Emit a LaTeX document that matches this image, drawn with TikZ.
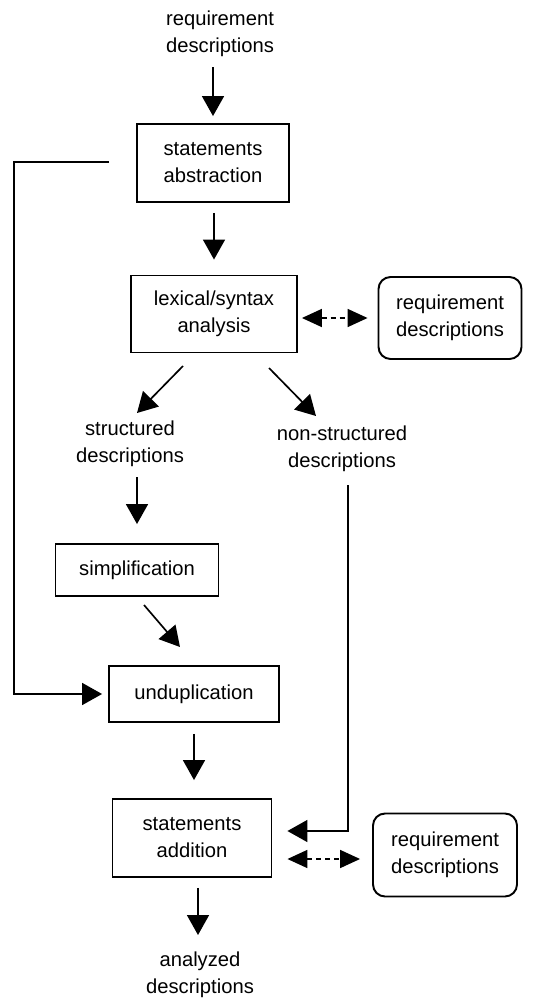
\documentclass[tikz,border=0pt]{standalone}
\usepackage{fontspec}
\setmainfont{Liberation Sans}
\usetikzlibrary{arrows.meta,calc}

\begin{document}
\begin{tikzpicture}[x=0.02cm, y=-0.02cm,
		font=\fontsize{11.5}{15.4}\selectfont,
		arr/.style={-{Triangle[length=0.4cm,width=0.44cm]}, line width=0.95pt},
		dbl/.style={{Triangle[length=0.4cm,width=0.36cm]}-{Triangle[length=0.4cm,width=0.36cm]}, line width=0.95pt, dash pattern=on 0.1cm off 0.08cm},
		proc/.style={draw, line width=1.1pt, align=center, inner sep=0pt},
		store/.style={proc, rounded corners=0.24cm},
		txt/.style={align=center, inner sep=0pt}]
	\useasboundingbox (0,0) rectangle (545,1000);

	\node[txt] (in) at (220, 34) {requirement\\descriptions};
	\node[proc, minimum width=3.04cm, minimum height=1.56cm] (abs) at (213, 163) {statements\\abstraction};
	\node[proc, minimum width=3.32cm, minimum height=1.54cm] (lex) at (214, 314) {lexical/syntax\\analysis};
	\node[store, minimum width=2.86cm, minimum height=1.64cm] (req1) at (450, 318) {requirement\\descriptions};
	\node[txt] (struct) at (130, 444) {structured\\descriptions};
	\node[txt] (nonstruct) at (342, 449) {non-structured\\descriptions};
	\node[proc, minimum width=3.26cm, minimum height=1.04cm] (simp) at (137, 570) {simplification};
	\node[proc, minimum width=3.4cm, minimum height=1.12cm] (undup) at (194, 694) {unduplication};
	\node[proc, minimum width=3.18cm, minimum height=1.56cm] (add) at (192, 838) {statements\\addition};
	\node[store, minimum width=2.88cm, minimum height=1.66cm] (req2) at (445, 855) {requirement\\descriptions};
	\node[txt] (out) at (200, 975) {analyzed\\descriptions};

	% main flow
	\draw[arr, shorten <=0.2cm, shorten >=0.14cm] (abs.north |- in.south) -- (abs.north);
	\draw[arr, shorten <=0.2cm, shorten >=0.3cm] (abs.south -| lex.north) -- (lex.north);
	\draw[arr] ($(lex)+(-31,52)$) -- ($(struct)+(7,-31)$);
	\draw[arr] ($(lex)+(55,54)$) -- ($(nonstruct)+(-26,-33)$);
	\draw[arr, shorten >=0.38cm] ($(struct)+(7,33)$) -- (simp.north);
	\draw[arr] ($(simp)+(7,35)$) -- ($(undup)+(-14,-47)$);
	\draw[arr, shorten <=0.22cm, shorten >=0.36cm] (undup.south) -- (undup.south |- add.north);
	\draw[arr, shorten <=0.2cm] (add.south -| 198,0) -- ($(out)+(-2,-40)$);

	% side paths
	\coordinate (fb) at ($(abs.west)+(-27,-1)$);
	\draw[arr, shorten >=0.12cm] (fb) -- ++(-95,0) |- (undup.west);
	\coordinate (ns) at ($(nonstruct)+(6,36)$);
	\draw[arr, shorten >=0.3cm] (ns) |- ([yshift=0.14cm]add.east);

	% dictionary lookups
	\draw[dbl, shorten <=0.08cm, shorten >=0.2cm] (req1.west -| lex.east) -- (req1.west);
	\coordinate (d2) at ([yshift=-0.42cm]add.east);
	\draw[dbl, shorten <=0.3cm, shorten >=0.24cm] (d2) -- (d2 -| req2.west);
\end{tikzpicture}
\end{document}
